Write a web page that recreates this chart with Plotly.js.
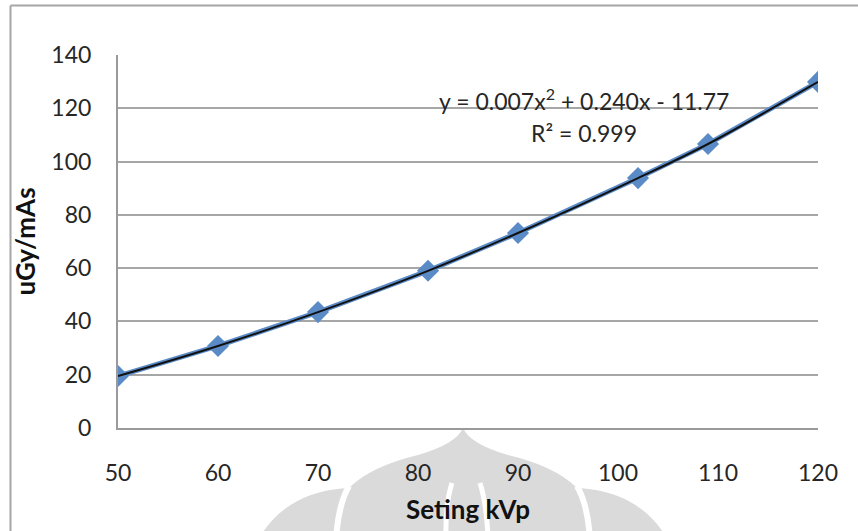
<!DOCTYPE html>
<html>
<head>
<meta charset="utf-8">
<script src="https://cdn.plot.ly/plotly-3.0.1.min.js"></script>
<style>
html,body{margin:0;padding:0;background:#fff;}
#chart{width:858px;height:531px;}
</style>
</head>
<body>
<div id="chart"></div>
<script>
// Data
const kVp = [50, 60, 70, 81, 90, 102, 109, 120];
const doseRate = [19.5, 30.8, 43.5, 59.0, 73.2, 93.8, 106.6, 129.9];
const xTicks = [50, 60, 70, 80, 90, 100, 110, 120];
const yTicks = [0, 20, 40, 60, 80, 100, 120, 140];
const equationText = 'y = 0.007x<sup>2</sup> + 0.240x - 11.77';
const r2Text = 'R² = 0.999';

const L = 118, R = 818, T = 55, B = 428;
const W = 858, H = 531;
function px(x){ return (x - L) / (R - L); }
function py(y){ return (B - y) / (B - T); }
function path(cmds){
  return cmds.map(c => {
    const l = c[0]; const pts = [];
    for (let i = 1; i < c.length; i += 2) pts.push(px(c[i]).toFixed(4) + ',' + py(c[i+1]).toFixed(4));
    return l + ' ' + pts.join(' ');
  }).join(' ');
}

const gray = '#dadada';
const wm = (p, w) => ({type:'path', xref:'paper', yref:'paper', layer:'below', line:{color:'#ffffff', width:w}, path: path(p)});
const shapes = [
  // outer chart border (left and top)
  {type:'line', xref:'paper', yref:'paper', x0:px(10.5), x1:px(10.5), y0:py(560), y1:py(5.5), line:{color:'#a6a6a6', width:2}, layer:'below'},
  {type:'line', xref:'paper', yref:'paper', x0:px(10.5), x1:px(900), y0:py(5.5), y1:py(5.5), line:{color:'#a6a6a6', width:2}, layer:'below'},
  // watermark
  {type:'path', xref:'paper', yref:'paper', layer:'below', fillcolor:gray, line:{width:0},
   path: path([['M',258,540],['Q',285,492,347,488],['L',350,487],['Q',372,466,418,455],['Q',456,444,463,428],
               ['Q',470,444,508,455],['Q',554,466,576,487],['L',579,488],['Q',641,492,668,540]]) + ' Z'},
  wm([['M',349,486],['Q',338,505,336,540]], 6),
  wm([['M',577,486],['Q',588,505,590,540]], 6),
  wm([['M',452,483],['Q',445,505,446,540]], 5),
  wm([['M',480,483],['Q',487,505,488,540]], 5)
];

const traces = [
  {
    x: kVp, y: doseRate, type: 'scatter', mode: 'lines+markers',
    line: {color: '#5b8bc7', width: 5},
    marker: {symbol: 'diamond', size: 17, color: '#5b8bc7'},
    hoverinfo: 'x+y', showlegend: false
  },
  {
    x: kVp, y: doseRate, type: 'scatter', mode: 'lines',
    line: {color: '#111111', width: 2, shape: 'spline', smoothing: 1},
    hoverinfo: 'skip', showlegend: false
  }
];

const fam = 'Lato, "Open Sans", sans-serif';
const font = {family: fam, size: 23, color: '#262626'};
const titleFont = {family: fam, size: 26, color: '#111'};

const layout = {
  width: W, height: H,
  margin: {l: L, r: W - R, t: T, b: H - B},
  paper_bgcolor: 'rgba(0,0,0,0)', plot_bgcolor: 'rgba(0,0,0,0)',
  font: font,
  showlegend: false,
  xaxis: {
    range: [50, 120], tickvals: xTicks, ticktext: xTicks.map(String),
    showgrid: false, zeroline: false,
    showline: true, linecolor: '#9a9a9a', linewidth: 2,
    ticks: '', ticklen: 0, tickfont: font, ticklabelstandoff: 23,
    title: {text: '<b>Seting kVp</b>', font: titleFont, standoff: 16},
    fixedrange: true
  },
  yaxis: {
    range: [0, 140], tickvals: yTicks, ticktext: yTicks.map(String),
    showgrid: true, gridcolor: '#a6a6a6', gridwidth: 2,
    zeroline: false,
    showline: true, linecolor: '#9a9a9a', linewidth: 2,
    ticks: '', tickfont: font, ticklabelstandoff: 20,
    title: {text: '<b>uGy/mAs</b>', font: titleFont, standoff: 8},
    fixedrange: true
  },
  shapes: shapes,
  annotations: [
    {xref:'x', yref:'y', x: 96.6, y: 123.2, text: equationText, showarrow: false, font: font, xanchor:'center', yanchor:'middle'},
    {xref:'x', yref:'y', x: 96.6, y: 110.9, text: r2Text, showarrow: false, font: font, xanchor:'center', yanchor:'middle'}
  ]
};

Plotly.newPlot('chart', traces, layout, {displayModeBar: false, staticPlot: true});
</script>
</body>
</html>
